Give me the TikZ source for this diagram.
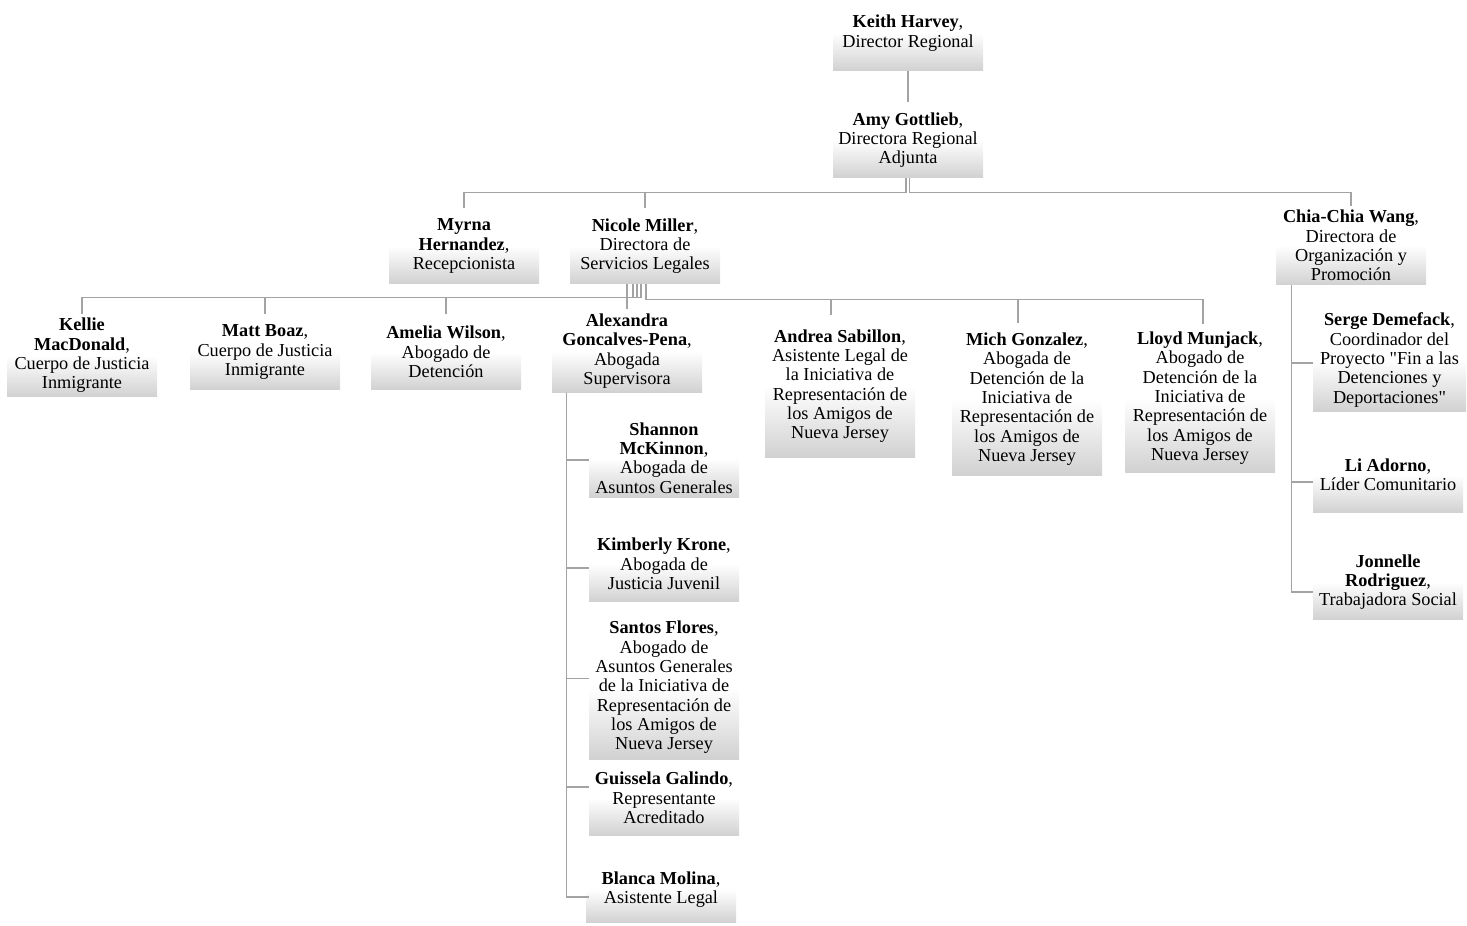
\documentclass[tikz,border=0pt]{standalone}
\usepackage{fontspec}
\setmainfont{Liberation Serif}
\usetikzlibrary{positioning}
\definecolor{linegray}{HTML}{A3A3A3}
\begin{document}
\begin{tikzpicture}[x=0.75pt,y=-0.75pt,
    person/.style={align=center, minimum width=112.5pt, minimum height=56.25pt,
      inner xsep=1pt, inner ysep=3pt, top color=white, bottom color=black!18, middle color=white,
      font=\fontsize{13.7pt}{14.5pt}\selectfont},
    link/.style={draw=linegray, line width=1pt}]
    \useasboundingbox (0,0) rectangle (1467,925);

    \node[person] (keith) at (908,33) {\textbf{Keith Harvey},\\Director Regional};
    \node[person] (amy) at (908,140) {\textbf{Amy Gottlieb},\\Directora Regional\\Adjunta};

    \node[person] (myrna) at (464,246) {\textbf{Myrna}\\\textbf{Hernandez},\\Recepcionista};
    \node[person] (nicole) at (645,246) {\textbf{Nicole Miller},\\Directora de\\Servicios Legales};
    \node[person] (chia) at (1351,245.5) {\textbf{Chia-Chia Wang},\\Directora de\\Organización y\\Promoción};

    \node[person] (kellie) at (82,355.5) {\textbf{Kellie}\\\textbf{MacDonald},\\Cuerpo de Justicia\\Inmigrante};
    \node[person] (matt) at (265,352) {\textbf{Matt Boaz},\\Cuerpo de Justicia\\Inmigrante};
    \node[person] (amelia) at (446,352) {\textbf{Amelia Wilson},\\Abogado de\\Detención};
    \node[person] (alexandra) at (627,351) {\textbf{Alexandra}\\\textbf{Goncalves-Pena},\\Abogada\\Supervisora};
    \node[person, minimum height=106.5pt] (andrea) at (840,386) {\textbf{Andrea Sabillon},\\Asistente Legal de\\la Iniciativa de\\Representación de\\los Amigos de\\Nueva Jersey};
    \node[person, minimum height=114pt] (mich) at (1027,399) {\textbf{Mich Gonzalez},\\Abogada de\\Detención de la\\Iniciativa de\\Representación de\\los Amigos de\\Nueva Jersey};
    \node[person, minimum height=111pt] (lloyd) at (1200,398) {\textbf{Lloyd Munjack},\\Abogado de\\Detención de la\\Iniciativa de\\Representación de\\los Amigos de\\Nueva Jersey};

    \node[person] (shannon) at (664,458) {\textbf{Shannon}\\\textbf{McKinnon},\\Abogada de\\Asuntos Generales};
    \node[person] (kimberly) at (664,564) {\textbf{Kimberly Krone},\\Abogada de\\Justicia Juvenil};
    \node[person, minimum height=107.25pt] (santos) at (664,687.5) {\textbf{Santos Flores},\\Abogado de\\Asuntos Generales\\de la Iniciativa de\\Representación de\\los Amigos de\\Nueva Jersey};
    \node[person] (guissela) at (664,798) {\textbf{Guissela Galindo},\\Representante\\Acreditado};
    \node[person, minimum height=49pt] (blanca) at (661,889.5) {\textbf{Blanca Molina},\\Asistente Legal};

    \node[person, minimum width=114.75pt, minimum height=72pt] (serge) at (1389.5,360) {\textbf{Serge Demefack},\\Coordinador del\\Proyecto \textquotedbl Fin a las\\Detenciones y\\Deportaciones\textquotedbl};
    \node[person] (li) at (1388,475) {\textbf{Li Adorno},\\Líder Comunitario};
    \node[person] (jonnelle) at (1388,582) {\textbf{Jonnelle}\\\textbf{Rodriguez},\\Trabajadora Social};

    \draw[link] (keith) -- (amy);
    \draw[link] ([xshift=-1.5pt]amy.south) -- ++(0,15) -| (myrna.north);
    \draw[link] ([xshift=-1.5pt]amy.south) -- ++(0,15) -| (nicole.north);
    \draw[link] ([xshift=1pt]amy.south) -- ++(0,15) -| (chia.north);

    \draw[link] ([xshift=-3pt]nicole.south) -- ++(0,13.5) -| (kellie.north);
    \draw[link] ([xshift=-6pt]nicole.south) -- ++(0,13.5) -| (matt.north);
    \draw[link] ([xshift=-9pt]nicole.south) -- ++(0,13.5) -| (amelia.north);
    \draw[link] (alexandra.north |- nicole.south) -- (alexandra.north);
    \draw[link] ([xshift=0.75pt]nicole.south) -- ++(0,15.5) -| ([xshift=-6.75pt]andrea.north);
    \draw[link] ([xshift=0.75pt]nicole.south) -- ++(0,15.5) -| ([xshift=-6.75pt]mich.north);
    \draw[link] ([xshift=0.75pt]nicole.south) -- ++(0,15.5) -| ([xshift=2.25pt]lloyd.north);

    \draw[link] ([xshift=11.25pt]alexandra.south west) |- ([yshift=-1.5pt]shannon.west);
    \draw[link] ([xshift=11.25pt]alexandra.south west) |- ([yshift=-3pt]kimberly.west);
    \draw[link] ([xshift=11.25pt]alexandra.south west) |- ([yshift=7pt]santos.west);
    \draw[link] ([xshift=11.25pt]alexandra.south west) |- ([yshift=8.25pt]guissela.west);
    \draw[link] ([xshift=11.25pt]alexandra.south west) |- ([xshift=2.25pt,yshift=-5.6pt]blanca.west);

    \draw[link] ([xshift=12pt]chia.south west) |- ([yshift=-2.25pt]serge.west);
    \draw[link] ([xshift=12pt]chia.south west) |- ([yshift=-5.25pt]li.west);
    \draw[link] ([xshift=12pt]chia.south west) |- ([yshift=-7.5pt]jonnelle.west);
\end{tikzpicture}
\end{document}
